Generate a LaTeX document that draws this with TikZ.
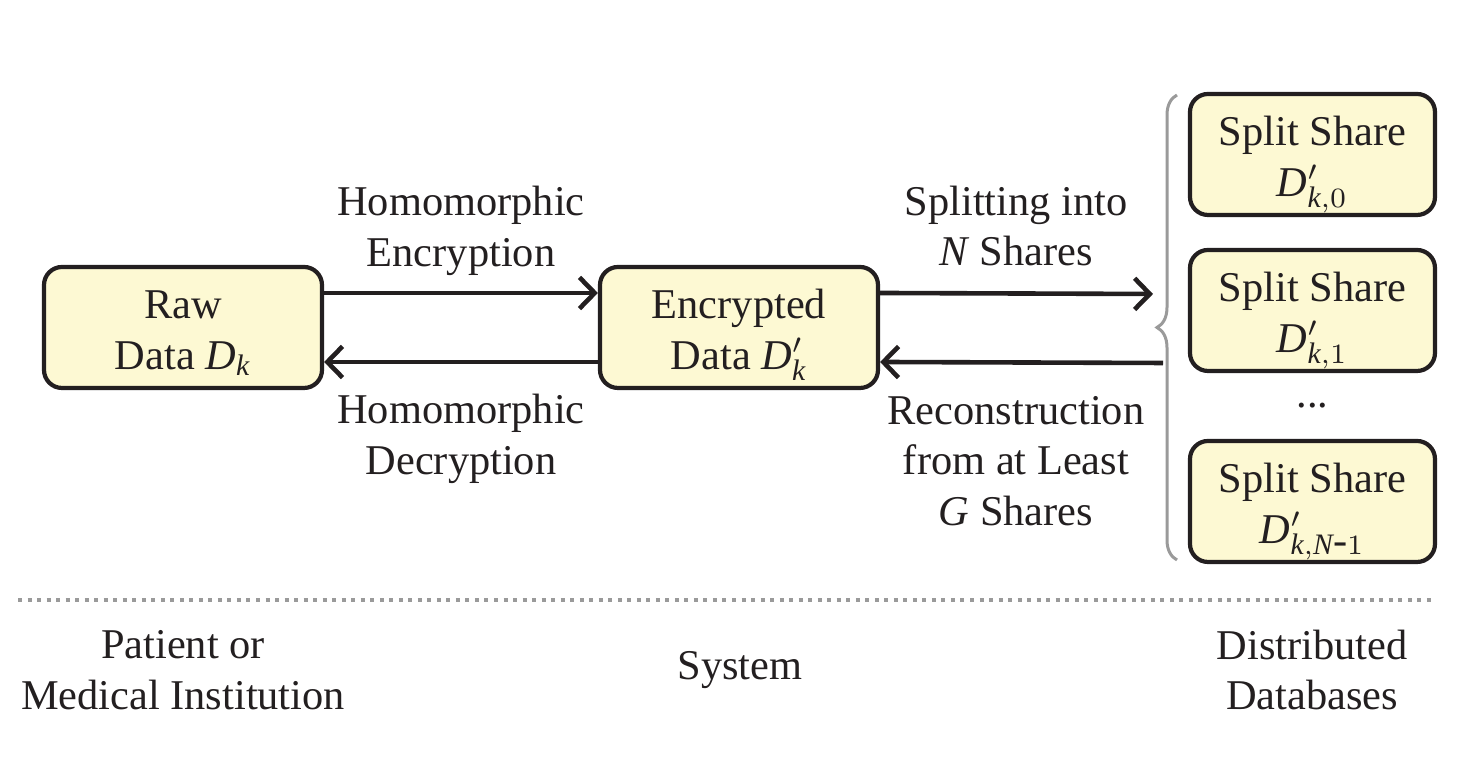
\documentclass[tikz,border=0pt]{standalone}
\usepackage{fontspec}
\setmainfont{Liberation Serif}
\usetikzlibrary{arrows.meta,decorations.pathreplacing}
\definecolor{boxfill}{HTML}{FDF9D3}
\definecolor{ink}{HTML}{231F20}
\definecolor{rulegray}{HTML}{9A9A9A}
\newcommand{\boxtxt}[2]{\raisebox{#1}[0pt][0pt]{\setlength{\tabcolsep}{0pt}\begin{tabular}{c}#2\end{tabular}}}
\begin{document}
\begin{tikzpicture}[x=0.25pt,y=-0.25pt,
  every node/.style={font=\fontsize{10.6}{12.7}\selectfont, text=ink},
  databox/.style={draw=ink, fill=boxfill, line width=1.05pt, rounded corners=4.5pt,
    minimum width=69.5pt, minimum height=30.25pt, align=center, inner sep=0pt},
  lbl/.style={align=center, inner sep=0pt},
  arr/.style={draw=ink, line width=1.15pt, -{Straight Barb[length=3.8pt,width=7.8pt,line width=1.15pt]}},
  brc/.style={draw=rulegray, line width=0.75pt, decorate, decoration={brace, amplitude=5pt}},
  sep/.style={draw=rulegray, line width=1pt, dash pattern=on 1pt off 1.38pt}]
\useasboundingbox (0,0) rectangle (1470,766);
\node[databox] (raw) at (183,327.5) {\boxtxt{-4.3pt}{Raw\\Data $\mathit{D}_{\mathit{k}}$}};
\node[databox] (enc) at (739,327.5) {\boxtxt{-4.3pt}{Encrypted\\Data $\mathit{D}'_{\mathit{k}}$}};
\node[databox, minimum width=61.25pt] (s0) at (1312.5,154.5) {\boxtxt{-4.4pt}{Split Share\\$\mathit{D}'_{\mathit{k},0}$}};
\node[databox, minimum width=61.25pt] (s1) at (1312.5,310.5) {\boxtxt{-4.4pt}{Split Share\\$\mathit{D}'_{\mathit{k},1}$}};
\node[lbl] (dots) at (1312.5,406) {...};
\node[databox, minimum width=61.25pt] (s2) at (1312.5,501.5) {\boxtxt{-4.4pt}{Split Share\\$\mathit{D}'_{\mathit{k},\mathit{N}\textrm{-}1}$}};
\coordinate (btop) at (1177,560);
\coordinate (bbot) at (1177,95);
\draw[brc] (btop) -- (bbot);
\coordinate (tipa) at (1153,294);
\coordinate (taila) at (1163,363);
\draw[arr] ([yshift=8.625pt]raw.east) -- ([yshift=8.625pt]enc.west);
\draw[arr] ([yshift=-8.625pt]enc.west) -- ([yshift=-8.625pt]raw.east);
\draw[arr] ([yshift=8.625pt]enc.east) -- (tipa);
\draw[arr] (taila) -- ([yshift=-8.625pt]enc.east);
\node[lbl] (he) at (461,231) {Homomorphic\\Encryption};
\node[lbl] (hd) at (461,439) {Homomorphic\\Decryption};
\node[lbl] (sp) at (1016,226) {Splitting into\\\textit{N} Shares};
\node[lbl] (rc) at (1016,461) {Reconstruction\\from at Least\\\textit{G} Shares};
\coordinate (sl) at (18,600);
\coordinate (sr) at (1436,600);
\draw[sep] (sl) -- (sr);
\node[lbl] (pat) at (183,670) {Patient or\\Medical Institution};
\node[lbl] (sys) at (740,670) {System};
\node[lbl] (ddb) at (1312,670) {Distributed\\Databases};
\end{tikzpicture}
\end{document}
